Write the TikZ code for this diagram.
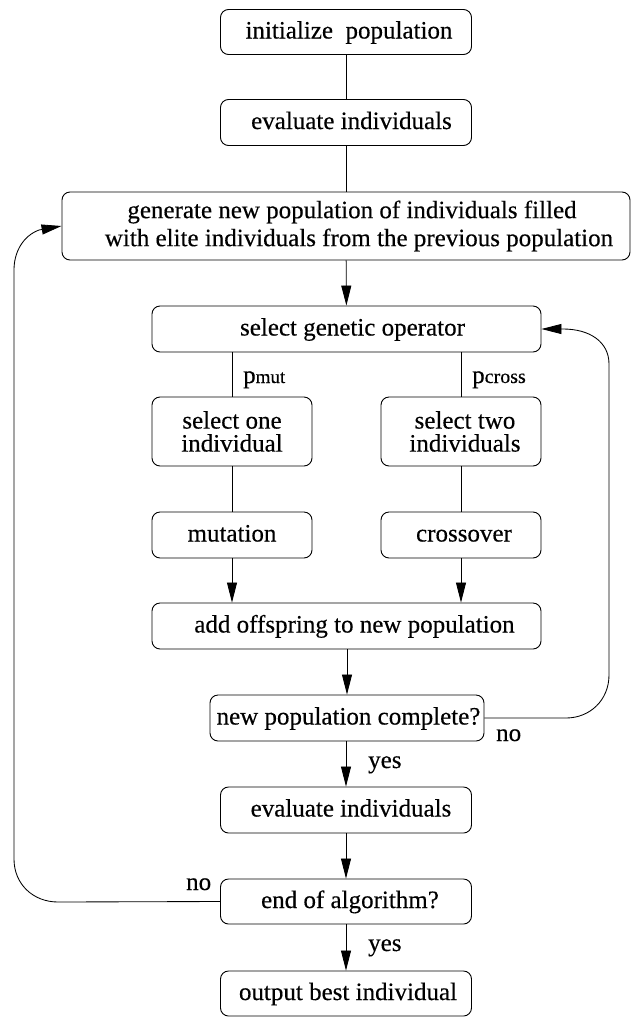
\documentclass[tikz,border=0pt]{standalone}
\usepackage{fontspec}
\setmainfont[FakeBold=0.35]{Liberation Serif}
\usetikzlibrary{arrows.meta}
\newcommand{\lsh}[1]{\hspace*{#1pt}}
\begin{document}
\begin{tikzpicture}[x=1pt,y=-1pt,
  box/.style={draw, rounded corners=8pt, line width=0.9pt, minimum height=46pt,
    inner sep=0pt, align=center, font=\fontsize{25}{28}\selectfont},
  one/.style={text height=17pt, text depth=4pt},
  ln/.style={line width=0.85pt},
  arr/.style={line width=0.85pt, -{Triangle[length=20pt,width=10pt]}},
  lbl/.style={inner sep=0pt, font=\fontsize{25}{28}\selectfont},
  sub/.style={inner sep=0pt, anchor=base west, font=\fontsize{25}{28}\selectfont}
]
\useasboundingbox (0,0) rectangle (631,1018);

% nodes
\node[box, one, minimum width=251pt, minimum height=45pt] (init) at (346,32) {\lsh{6}initialize\hspace{0.5em}population};
\node[box, one, minimum width=251pt] (eval1) at (346,122.5) {\lsh{11}evaluate individuals};
\node[box, minimum width=568pt, minimum height=68pt] (gen) at (346,226)
  {\lsh{12}generate new population of individuals filled\\ \lsh{26}with elite individuals from the previous population};
\node[box, one, minimum width=389pt] (selop) at (346.5,329) {\lsh{12}select genetic operator};
\node[box, minimum width=160pt, minimum height=69pt, font=\fontsize{25}{23}\selectfont] (selone) at (232,431.5) {select one\\individual};
\node[box, minimum width=160pt, minimum height=69pt, font=\fontsize{25}{23}\selectfont] (seltwo) at (461,431.5) {\lsh{8}select two\\\lsh{8}individuals};
\node[box, one, minimum width=160pt] (mut) at (232,535) {mutation};
\node[box, one, minimum width=160pt] (cross) at (461,535) {\lsh{6}crossover};
\node[box, one, minimum width=389pt] (add) at (346.5,626) {\lsh{16}add offspring to new population};
\node[box, one, minimum width=274pt] (comp) at (347,718) {\lsh{3}new population complete?};
\node[box, one, minimum width=251pt] (eval2) at (346,810) {\lsh{10}evaluate individuals};
\node[box, one, minimum width=251pt, minimum height=45pt] (end) at (346,901.5) {\lsh{8}end of algorithm?};
\node[box, one, minimum width=251pt, minimum height=45pt] (out) at (346,993.5) {\lsh{4}output best individual};

% labels
\node[sub] (pm) at (243,383) {p{\fontsize{19}{19}\selectfont mut}};
\node[sub] (pc) at (472,383) {p{\fontsize{20}{20}\selectfont cross}};
\node[sub] (yes1) at (368,768) {yes};
\node[sub] (yes2) at (368,951) {yes};
\node[sub] (no1) at (496,741) {no};
\node[sub] (no2) at (186,890) {no};

% connectors
\draw[ln] (init) -- (eval1);
\draw[ln] (eval1) -- (gen);
\draw[arr] (gen) -- (selop);
\draw[ln] (selone.north |- selop.south) -- (selone);
\draw[ln] (seltwo.north |- selop.south) -- (seltwo);
\draw[ln] (selone) -- (mut);
\draw[ln] (seltwo) -- (cross);
\draw[arr] (mut.south) -- (mut.south |- add.north);
\draw[arr] (cross.south) -- (cross.south |- add.north);
\draw[arr] (add.south -| comp.north) -- (comp);
\draw[arr] (comp.south -| eval2.north) -- (eval2);
\draw[arr] (eval2) -- (end);
\draw[arr] (end) -- (out);

% loops
\coordinate (r1) at (566,718);
\coordinate (r2) at (609,675);
\coordinate (r3) at (609,364);
\coordinate (r4) at (563,329);
\draw[arr] (comp.east) -- (r1) .. controls (590,718) and (609,700) .. (r2)
  -- (r3) .. controls (609,342) and (590,329) .. (r4) -- (selop.east);

\coordinate (l1) at (58,902);
\coordinate (l2) at (14,859);
\coordinate (l3) at (14,270);
\coordinate (l4) at (39,230);
\draw[arr] (end.west) -- (l1) .. controls (33,902) and (14,884) .. (l2)
  -- (l3) .. controls (14,252) and (23,236) .. (l4) -- (gen.west);
\end{tikzpicture}
\end{document}
